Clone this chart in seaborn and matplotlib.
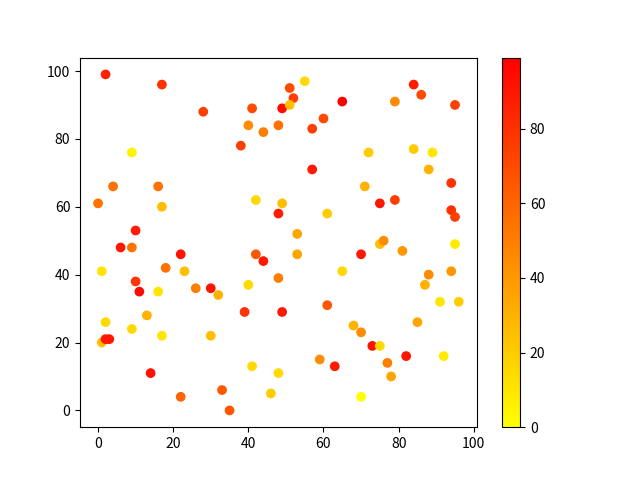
import numpy as np
import matplotlib
matplotlib.use("Agg")
import matplotlib.pyplot as plt
import seaborn as sns

plt.rcParams['font.family'] = ['Noto Sans CJK SC', 'DejaVu Sans']

# points: x, y and colour value
x = [2, 17, 28, 9, 4, 16, 17, 0, 6, 9,
     10, 10, 11, 18, 22, 23, 1, 2, 1, 2,
     3, 13, 16, 17, 9, 14, 22, 26, 30, 32,
     30, 33, 35, 38, 40, 41, 44, 48, 49, 51,
     52, 51, 55, 57, 60, 57, 65, 42, 49, 53,
     48, 42, 44, 53, 40, 48, 39, 49, 41, 48,
     46, 61, 65, 61, 59, 63, 68, 70, 70, 70,
     71, 72, 75, 75, 76, 79, 79, 81, 73, 75,
     77, 78, 82, 84, 86, 84, 89, 88, 95, 94,
     94, 95, 95, 96, 91, 92, 94, 88, 87, 85]
y = [99, 96, 88, 76, 66, 66, 60, 61, 48, 48,
     53, 38, 35, 42, 46, 41, 41, 26, 20, 21,
     21, 28, 35, 22, 24, 11, 4, 36, 36, 34,
     22, 6, 0, 78, 84, 89, 82, 84, 89, 95,
     92, 90, 97, 83, 86, 71, 91, 62, 61, 52,
     58, 46, 44, 46, 37, 39, 29, 29, 13, 11,
     5, 58, 41, 31, 15, 13, 25, 23, 4, 46,
     66, 76, 61, 49, 50, 62, 91, 47, 19, 19,
     14, 10, 16, 96, 93, 77, 76, 71, 90, 67,
     59, 57, 49, 32, 32, 16, 41, 40, 37, 26]
colors = [85, 80, 75, 5, 55, 55, 25, 55, 90, 55,
          88, 78, 95, 55, 92, 25, 10, 15, 25, 90,
          90, 30, 10, 10, 15, 92, 60, 50, 92, 30,
          25, 65, 65, 75, 45, 70, 50, 55, 95, 70,
          75, 25, 15, 75, 70, 90, 99, 15, 25, 35,
          88, 65, 90, 35, 15, 50, 80, 90, 15, 15,
          20, 20, 15, 65, 45, 88, 30, 45, 0, 90,
          30, 20, 90, 25, 45, 75, 45, 40, 92, 15,
          50, 35, 92, 88, 70, 20, 10, 30, 75, 80,
          80, 75, 8, 20, 10, 8, 40, 45, 30, 35]

fig = plt.figure(figsize=(6.4, 4.8), dpi=100)
ax = sns.scatterplot(x=x, y=y, c=colors, cmap="autumn_r", edgecolor="face", linewidth=1)
plt.colorbar(ax.collections[0], ax=ax)
plt.savefig("out.png")
